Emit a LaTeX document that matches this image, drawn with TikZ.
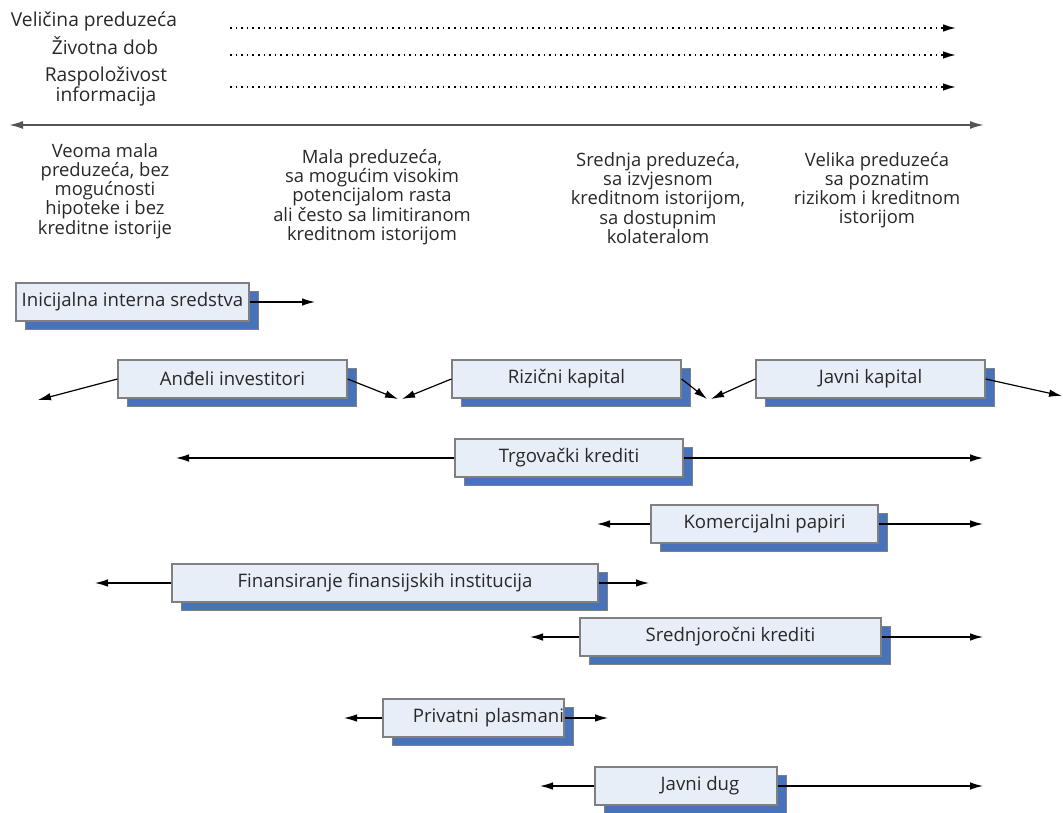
\documentclass[tikz,border=0pt]{standalone}
\usepackage{fontspec}
\setmainfont{Open Sans}
\usetikzlibrary{arrows.meta,shadows}

\definecolor{boxfill}{RGB}{232,238,247}
\definecolor{boxline}{RGB}{128,128,128}
\definecolor{shblue}{RGB}{72,114,186}
\definecolor{txt}{RGB}{40,40,40}
\definecolor{axisgray}{RGB}{85,85,85}

\tikzset{
  lbl/.style={text=txt, inner sep=0pt, align=center, font=\fontsize{9.6}{10}\selectfont},
  coltxt/.style={text=txt, inner sep=0pt, align=center, font=\fontsize{9.2}{9.6}\selectfont},
  box/.style={draw=boxline, fill=boxfill, line width=0.6pt, minimum height=19pt, inner sep=0pt,
    text=txt, font=\fontsize{9.3}{10}\selectfont,
    copy shadow={shadow xshift=4.5pt, shadow yshift=-4pt, fill=shblue, draw=boxline, line width=0.4pt}},
  flow/.style={-{Latex[length=6.5pt,width=3.8pt]}, line width=0.6pt},
  track/.style={dotted, line width=0.8pt, -{Latex[length=6.5pt,width=3.8pt]}}
}

\begin{document}
\begin{tikzpicture}[x=0.5pt,y=-0.5pt]
	\useasboundingbox (0,0) rectangle (1063,812);

	% oznake
	\node[lbl] (vel) at (94,21) {Veličina preduzeća};
	\node[lbl] (dob) at (105,46) {Životna dob};
	\node[lbl] (inf) at (106,86) {Raspoloživost\\ informacija};

	\coordinate (velA) at (230,28);  \coordinate (velB) at (956,28);
	\coordinate (dobA) at (230,55);  \coordinate (dobB) at (956,55);
	\coordinate (infA) at (230,87);  \coordinate (infB) at (956,87);
	\draw[track] (velA) -- (velB);
	\draw[track] (dobA) -- (dobB);
	\draw[track] (infA) -- (infB);

	\coordinate (axL) at (9,125);
	\coordinate (axR) at (984,125);
	\draw[{Latex[length=7pt,width=4pt]}-{Latex[length=7pt,width=4pt]}, line width=0.9pt, axisgray] (axL) -- (axR);

	\node[coltxt] (k1) at (105,191) {Veoma mala\\preduzeća, bez\\mogućnosti\\hipoteke i bez\\kreditne istorije};
	\node[coltxt] (k2) at (372,197) {Mala preduzeća,\\sa mogućim visokim\\potencijalom rasta\\ali često sa limitiranom\\kreditnom istorijom};
	\node[coltxt] (k3) at (658,198) {Srednja preduzeća,\\sa izvjesnom\\kreditnom istorijom,\\sa dostupnim\\kolateralom};
	\node[coltxt] (k4) at (877,190) {Velika preduzeća\\sa poznatim\\rizikom i kreditnom\\istorijom};

	% izvori
	\node[box, minimum width=116.5pt] (init) at (132.5,302) {Inicijalna interna sredstva};
	\node[box, minimum width=114.5pt] (angel) at (232.5,379) {Anđeli investitori};
	\node[box, minimum width=114.5pt] (risk) at (566.5,379) {Rizični kapital};
	\node[box, minimum width=114.5pt] (equity) at (870.5,379) {Javni kapital};
	\node[box, minimum width=114pt] (trade) at (569,458) {Trgovački krediti};
	\node[box, minimum width=113.5pt] (paper) at (764.5,524) {Komercijalni papiri};
	\node[box, minimum width=213pt] (inst) at (385,583) {Finansiranje finansijskih institucija};
	\node[box, minimum width=150.5pt] (mid) at (730.5,637) {Srednjoročni krediti};
	\node[box, text width=90.5pt, align=right] (priv) at (473.5,718) {Privatni plasmani};
	\node[box, minimum width=91pt] (debt) at (686,786) {\hspace*{14pt}Javni dug};

	\coordinate (initR) at (315,302);
	\coordinate (angelL) at (38,400);   \coordinate (angelR) at (398,399);
	\coordinate (riskL) at (402,399);   \coordinate (riskR) at (707,399);
	\coordinate (equityL) at (711,399); \coordinate (equityR) at (1062,396);
	\coordinate (tradeL) at (176,458);  \coordinate (tradeR) at (983,458);
	\coordinate (paperL) at (597,524);  \coordinate (paperR) at (983,524);
	\coordinate (instL) at (95,583);    \coordinate (instR) at (649,583);
	\coordinate (midL) at (530,637);    \coordinate (midR) at (983,637);
	\coordinate (privL) at (344,718);   \coordinate (privR) at (608,718);
	\coordinate (debtL) at (540,786);   \coordinate (debtR) at (983,786);

	\draw[flow] (init.east) -- (initR);
	\draw[flow] (angel.west) -- (angelL);
	\draw[flow] (angel.east) -- (angelR);
	\draw[flow] (risk.west) -- (riskL);
	\draw[flow] (risk.east) -- (riskR);
	\draw[flow] (equity.west) -- (equityL);
	\draw[flow] (equity.east) -- (equityR);
	\draw[flow] (trade.west) -- (tradeL);
	\draw[flow] (trade.east) -- (tradeR);
	\draw[flow] (paper.west) -- (paperL);
	\draw[flow] (paper.east) -- (paperR);
	\draw[flow] (inst.west) -- (instL);
	\draw[flow] (inst.east) -- (instR);
	\draw[flow] (mid.west) -- (midL);
	\draw[flow] (mid.east) -- (midR);
	\draw[flow] (priv.west) -- (privL);
	\draw[flow] (priv.east) -- (privR);
	\draw[flow] (debt.west) -- (debtL);
	\draw[flow] (debt.east) -- (debtR);
\end{tikzpicture}
\end{document}
